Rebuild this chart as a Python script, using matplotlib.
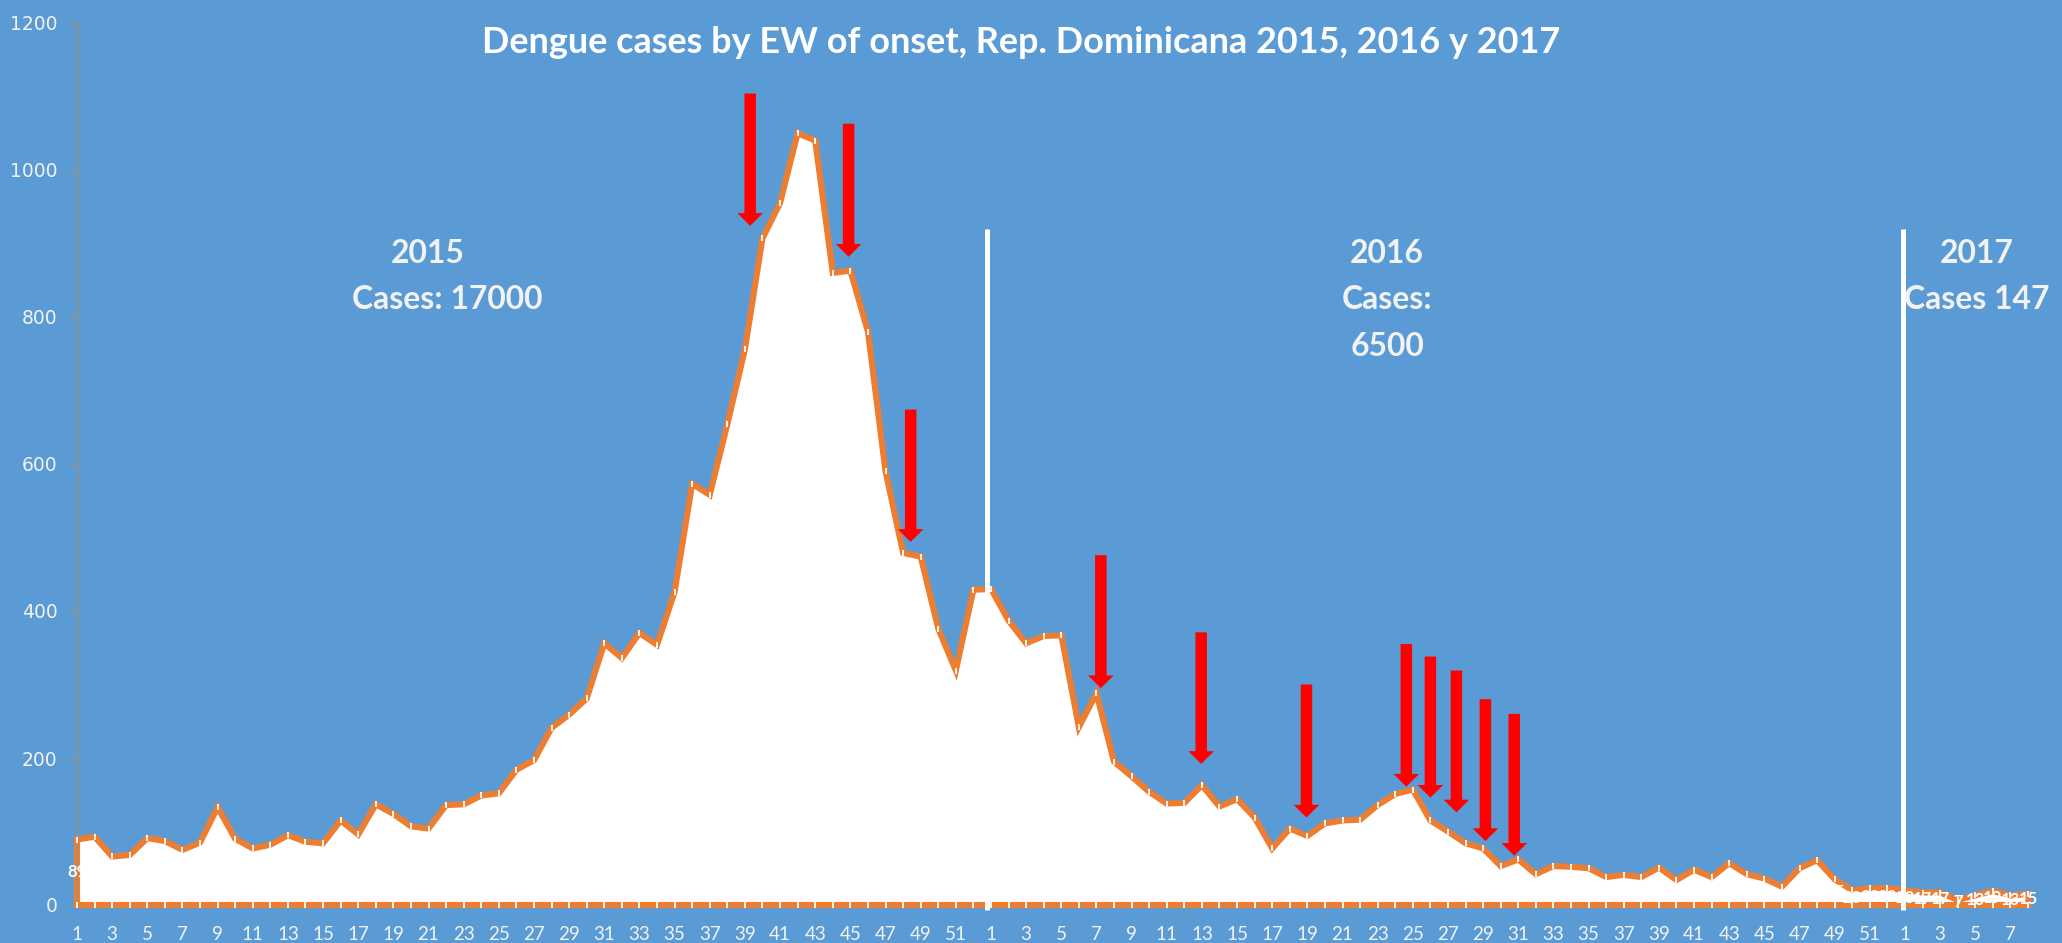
import matplotlib
matplotlib.use('Agg')
import matplotlib.pyplot as plt
from matplotlib.patches import FancyArrow
import numpy as np

# ---------------- data ----------------
y2015 = [89, 93, 66, 68, 91, 87, 75, 85, 133, 90, 77, 82, 95, 86, 84, 115, 96,
         137, 124, 107, 104, 136, 137, 149, 152, 184, 197, 241, 259, 281, 356,
         336, 370, 354, 426, 573, 558, 654, 756, 907, 955, 1050, 1040, 860, 863,
         780, 590, 479, 474, 376, 319, 429]
y2016 = [430, 387, 356, 366, 367, 242, 288, 195, 175, 154, 138, 139, 163, 134,
         144, 119, 77, 104, 94, 111, 115, 116, 136, 151, 157, 115, 100, 84, 77,
         53, 62, 42, 53, 52, 50, 38, 41, 38, 51, 34, 48, 38, 57, 42, 36, 25, 50,
         61, 35, 20, 23, 23]
y2017 = [20, 17, 17, 7, 13, 19, 13, 15]

weeks = list(range(1, 53)) + list(range(1, 53)) + list(range(1, 9))
week_labels = [str(w) for w in weeks]

title = "Dengue cases by EW of onset, Rep. Dominicana 2015, 2016 y 2017"
year_texts = ["2015", "Cases: 17000", "2016", "Cases:", "6500", "2017", "Cases 147"]

# separators between years (category position) and arrows (category, top, tip)
sep_x = [51.8, 103.86]
arrow_x = [38.3, 43.9, 47.43, 58.25, 63.96, 69.95, 75.63, 77.0, 78.48, 80.13, 81.77]
arrow_top = [1104, 1063, 674, 476, 371, 300, 355, 338, 319, 280, 260]
arrow_tip = [924, 882, 494, 295, 192, 119, 161, 146, 126, 87, 67]

# ---------------- style ----------------
BLUE = '#5B9BD5'
ORANGE = '#ED7D31'
TAN = '#A48F73'
TXT = '#F2F2F2'

W, H = 2062, 943
fig = plt.figure(figsize=(W / 100, H / 100), dpi=100, facecolor=BLUE)
ax = fig.add_axes([77 / W, 1 - 905 / H, (2028 - 77) / W, (905 - 23) / H])
ax.set_facecolor(BLUE)

values = np.array(y2015 + y2016 + y2017)
x = np.arange(len(values))

ax.fill(np.r_[x[0], x, x[-1]], np.r_[0, values, 0], facecolor='white',
        edgecolor=ORANGE, lw=4.4, joinstyle='miter', clip_on=False, zorder=2)
ax.plot(x, values, ls='none', marker='|', color='white', ms=4.5, mew=1.3,
        zorder=3, clip_on=False)
ax.plot(x, np.zeros_like(values), ls='none', marker='|', color='white', ms=4.5,
        mew=1.3, zorder=3, clip_on=False)

for xi, v in zip(x, values):
    ax.text(xi, v / 2, str(v), ha='center', va='center', color='white',
            fontsize=12, fontweight='bold', family='Lato', zorder=4)

for sx in sep_x:
    ax.plot([sx, sx], [-7, 920], color='white', lw=3.6, solid_capstyle='butt',
            clip_on=False, zorder=5)

for xa, top, tip in zip(arrow_x, arrow_top, arrow_tip):
    ax.add_patch(FancyArrow(xa, top, 0, tip - top, width=0.654, head_width=1.456,
                            head_length=17.3, length_includes_head=True,
                            color='#FF0000', lw=0, zorder=6))

ax.set_xlim(0, len(values) - 1)
ax.set_ylim(0, 1200)
for s in ['top', 'right', 'bottom']:
    ax.spines[s].set_visible(False)
ax.spines['left'].set_color(TAN)
ax.spines['left'].set_linewidth(1)

ax.set_xticks(x[::2])
ax.set_xticklabels(week_labels[::2])
ax.tick_params(axis='x', length=0, pad=15, labelsize=13.5, labelcolor=TXT)
for lab in ax.get_xticklabels():
    lab.set_fontfamily('Lato')
ax.set_yticks(range(0, 1201, 200))
ax.tick_params(axis='y', length=5, width=1, color=TAN, pad=9, labelsize=13.5,
               labelcolor=TXT)

# ---------------- texts ----------------
def ftext(px, py, s, size, **kw):
    return fig.text(px / W, 1 - py / H, s, ha='center', va='baseline',
                    color=kw.pop('color', TXT), fontsize=size, fontweight='bold',
                    family='Lato', **kw)

t_title = ftext(1021, 53, title, 22, color='white')
renderer = fig.canvas.get_renderer()
w = t_title.get_window_extent(renderer).width
t_title.set_fontsize(22 * 1078 / w)

pos = [(428, 263), (447, 309), (1387, 263), (1387, 309), (1387, 356),
       (1977, 263), (1977, 309)]
probe = fig.text(0, 0, year_texts[1], fontsize=22, fontweight='bold', family='Lato')
pw = probe.get_window_extent(renderer).width
probe.remove()
rsize = 22 * 190 / pw
for (px, py), s in zip(pos, year_texts):
    ftext(px, py, s, rsize)

fig.savefig('out.png', dpi=100, facecolor=BLUE)
